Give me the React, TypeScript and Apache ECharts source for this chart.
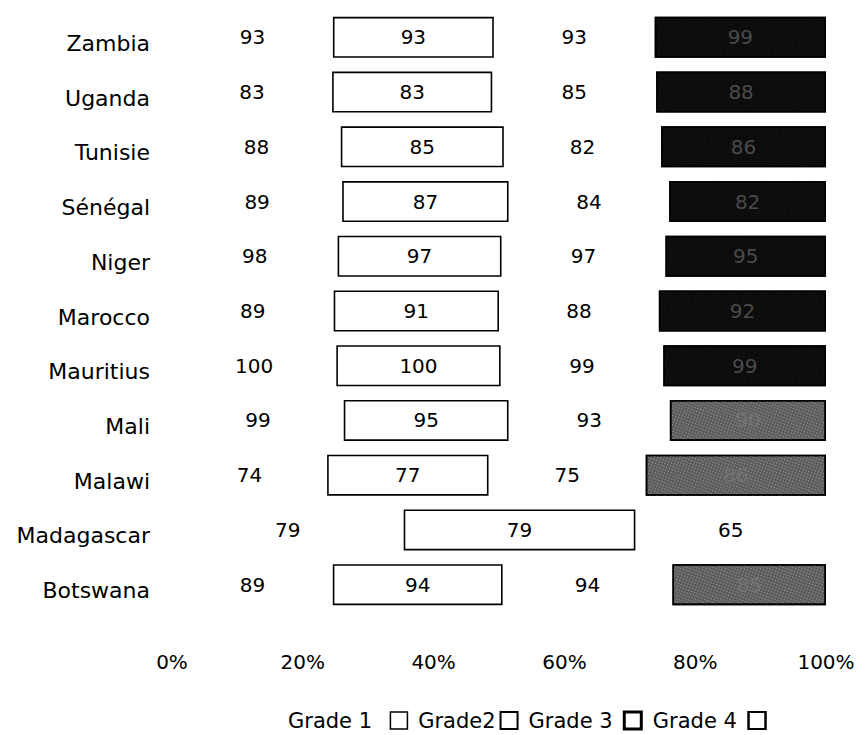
import React, { useEffect, useRef } from "react";
import * as echarts from "echarts";

// Countries listed top to bottom
const countries = [
  "Zambia",
  "Uganda",
  "Tunisie",
  "Sénégal",
  "Niger",
  "Marocco",
  "Mauritius",
  "Mali",
  "Malawi",
  "Madagascar",
  "Botswana",
];

const grade1 = [93, 83, 88, 89, 98, 89, 100, 99, 74, 79, 89];
const grade2 = [93, 83, 85, 87, 97, 91, 100, 95, 77, 79, 94];
const grade3 = [93, 85, 82, 84, 97, 88, 99, 93, 75, 65, 94];
const grade4: (number | null)[] = [99, 88, 86, 82, 95, 92, 99, 90, 86, null, 85];

// Rows whose Grade 4 bar is printed in a lighter screen
const lightRows = ["Mali", "Malawi", "Botswana"];

const seriesNames = ["Grade 1", "Grade2", "Grade 3", "Grade 4"];
const legendLabels = ["Grade 1  ", "Grade2", "Grade 3 ", "Grade 4 "];
const tickLabels = ["0%", "20%", "40%", "60%", "80%", "100%"];

const FONT = "DejaVu Sans";

export default function App() {
  const ref = useRef<HTMLDivElement>(null);

  useEffect(() => {
    if (!ref.current) return;
    const chart = echarts.init(ref.current, null, { renderer: "svg" });

    const grades = [grade1, grade2, grade3, grade4];
    const totals = countries.map((_, i) =>
      grades.reduce((s, g) => s + (g[i] ?? 0), 0)
    );
    // Each segment's share of the row, keeping the raw value for its label
    const share = (g: (number | null)[], i: number) =>
      g[i] == null ? null : (100 * (g[i] as number)) / totals[i];

    const labelBase = {
      show: true,
      position: "inside" as const,
      fontFamily: FONT,
      fontSize: 20,
      color: "#000",
    };

    const darkDecal = {
      symbol: "rect",
      symbolSize: 0.6,
      color: "rgba(255,255,255,0.22)",
      dashArrayX: [1, 4],
      dashArrayY: [1, 3],
      rotation: 0.35,
    };
    const lightDecal = {
      symbol: "rect",
      symbolSize: 0.8,
      color: "rgba(255,255,255,0.5)",
      dashArrayX: [1, 2],
      dashArrayY: [1, 2],
      rotation: 0.35,
    };

    const series = grades.map((g, k) => {
      const data = countries.map((c, i) => {
        const v = share(g, i);
        const item: any = { value: v, raw: g[i] };
        if (k === 3 && lightRows.includes(c)) {
          item.itemStyle = { color: "#5e5e5e", decal: lightDecal };
          item.label = { color: "#727272" };
        }
        return item;
      });
      const base: any = {
        name: seriesNames[k],
        type: "bar",
        stack: "total",
        barWidth: 41,
        data,
        label: {
          ...labelBase,
          formatter: (p: any) => (p.data.raw == null ? "" : String(p.data.raw)),
        },
      };
      if (k === 0 || k === 2) {
        base.itemStyle = { color: "rgba(0,0,0,0)", borderWidth: 0 };
      } else if (k === 1) {
        base.itemStyle = { color: "#fff", borderColor: "#000", borderWidth: 1.6 };
      } else {
        base.itemStyle = {
          color: "#0c0c0c",
          borderColor: "#000",
          borderWidth: 1.6,
          decal: darkDecal,
        };
        base.label.color = "#4a4a4a";
      }
      return base;
    });

    const legendStyles = [
      { color: "#fff", borderColor: "#000", borderWidth: 1.5 },
      { color: "#fff", borderColor: "#000", borderWidth: 2 },
      { color: "#fff", borderColor: "#000", borderWidth: 3 },
      { color: "#fff", borderColor: "#000", borderWidth: 2 },
    ];

    chart.setOption({
      animation: false,
      backgroundColor: "#fff",
      grid: { left: 172, right: 39, top: 10, bottom: 123, containLabel: false },
      xAxis: {
        type: "value",
        min: 0,
        max: 100,
        interval: 20,
        axisLine: { show: false },
        axisTick: { show: false },
        splitLine: { show: false },
        axisLabel: {
          margin: 40,
          fontFamily: FONT,
          fontSize: 20,
          color: "#000",
          formatter: (v: number) => tickLabels[Math.round(v / 20)],
        },
      },
      yAxis: {
        type: "category",
        inverse: true,
        data: countries,
        axisLine: { show: false },
        axisTick: { show: false },
        axisLabel: {
          margin: 22,
          fontFamily: FONT,
          fontSize: 22,
          color: "#000",
          verticalAlign: "top",
          lineHeight: 12,
        },
      },
      legend: {
        left: 283,
        top: 705,
        align: "right",
        icon: "rect",
        itemWidth: 17,
        itemHeight: 17,
        itemGap: 10,
        textStyle: { fontFamily: FONT, fontSize: 21, color: "#000" },
        formatter: (name: string) => legendLabels[seriesNames.indexOf(name)],
        data: seriesNames.map((n, i) => ({ name: n, itemStyle: legendStyles[i] })),
      },
      series,
    });

    return () => chart.dispose();
  }, []);

  return (
    <div
      ref={ref}
      style={{ position: "fixed", left: 0, top: 0, width: 865, height: 735 }}
    />
  );
}
